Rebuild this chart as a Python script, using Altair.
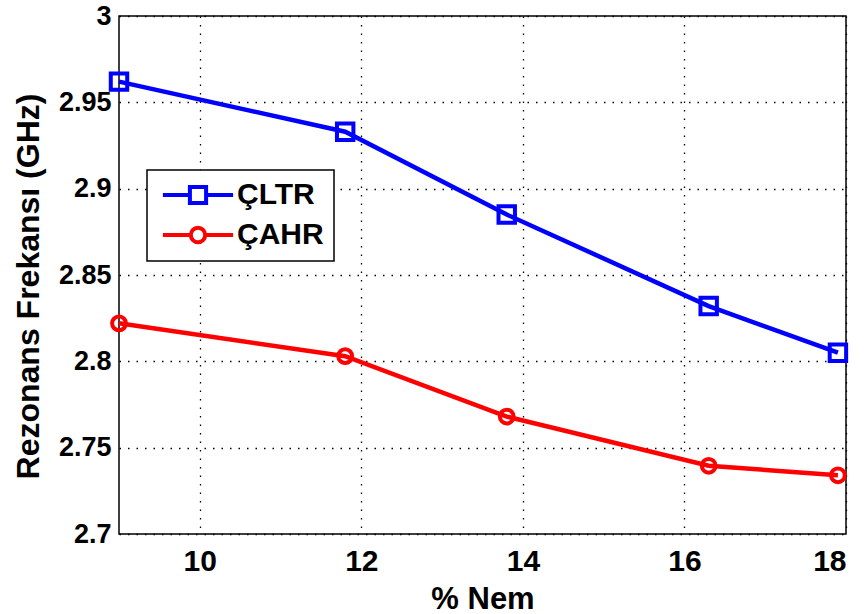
import altair as alt
import pandas as pd

# ---- data ----
nem = [9.0, 11.8, 13.8, 16.3, 17.9]
cltr = [2.962, 2.933, 2.885, 2.832, 2.805]
cahr = [2.822, 2.803, 2.768, 2.7395, 2.734]
series_names = ["ÇLTR", "ÇAHR"]
series_colors = ["#0000FF", "#FF0000"]
x_ticks = [10, 12, 14, 16, 18]
y_ticks = [2.7, 2.75, 2.8, 2.85, 2.9, 2.95, 3.0]

rows = []
for name, vals in zip(series_names, [cltr, cahr]):
    for x, v in zip(nem, vals):
        rows.append({"series": name, "nem": x, "freq": v})
df = pd.DataFrame(rows)

FONT = "Liberation Sans"

color_scale = alt.Scale(domain=series_names, range=series_colors)
# legend symbols: a line with the marker in its middle
sq_path = "M-3.9,0H-0.9M0.9,0H3.9M-0.9,-0.9H0.9V0.9H-0.9Z"
ci_path = ("M-3.9,0H-0.8M0.8,0H3.9"
           "M-0.8,0A0.8,0.8,0,1,0,0.8,0A0.8,0.8,0,1,0,-0.8,0")

x_enc = alt.X("nem:Q", scale=alt.Scale(domain=[9, 18], nice=False, zero=False),
              axis=alt.Axis(values=x_ticks, title="% Nem", format="~g",
                            labelPadding=12, titleY=74, titleBaseline="alphabetic",
                            titleFontSize=31, labelFontSize=30))
y_enc = alt.Y("freq:Q", scale=alt.Scale(domain=[2.7, 3.0], nice=False, zero=False),
              axis=alt.Axis(values=y_ticks, title="Rezonans Frekansı (GHz)", format="~g",
                            labelPadding=8, labelFontSize=27, titleFontSize=32,
                            titleX=-91, titleY=270, titleAngle=-90,
                            titleAlign="center", titleBaseline="middle"))

base = alt.Chart(df)

layers = []
for name, col, shape, size in zip(series_names, series_colors,
                                  ["square", "circle"], [270, 190]):
    sub = base.transform_filter(alt.datum.series == name)
    layers.append(sub.mark_line(strokeWidth=4.5, color=col).encode(x=x_enc, y=y_enc))
    layers.append(sub.mark_point(shape=shape, filled=False, size=size,
                                 strokeWidth=4, opacity=1, color=col)
                  .encode(x="nem:Q", y="freq:Q"))

leg = dict(orient="none", legendX=28, legendY=154, title=None, padding=10,
           strokeColor="black", fillColor="white", symbolSize=324,
           symbolStrokeWidth=4, symbolOpacity=1, symbolOffset=26,
           labelOffset=24, labelFont=FONT, labelFontSize=30,
           labelFontWeight="bold", labelColor="black", rowPadding=7)

legend_layer = base.mark_point(opacity=0, filled=False).encode(
    x="nem:Q", y="freq:Q",
    color=alt.Color("series:N", scale=color_scale, legend=alt.Legend(**leg)),
    shape=alt.Shape("series:N", scale=alt.Scale(domain=series_names, range=[sq_path, ci_path]),
                    legend=alt.Legend(**leg)),
)
layers.append(legend_layer)

chart = alt.layer(*layers).properties(
    width=727, height=518,
    autosize=alt.AutoSizeParams(type="none"),
    padding={"left": 119, "top": 16, "right": 18, "bottom": 80},
    background="white",
).configure_view(
    stroke="black", strokeWidth=1.5
).configure_legend(
    strokeWidth=1.5, cornerRadius=0
).configure_axis(
    labelFont=FONT, titleFont=FONT, labelFontWeight="bold", titleFontWeight="bold",
    labelColor="black", titleColor="black",
    domain=False, ticks=False, tickSize=0,
    grid=True, gridColor="black", gridDash=[1.5, 7], gridWidth=1.3, gridOpacity=1,
)

chart.save("out.html", embed_options={"renderer": "svg", "actions": False})
